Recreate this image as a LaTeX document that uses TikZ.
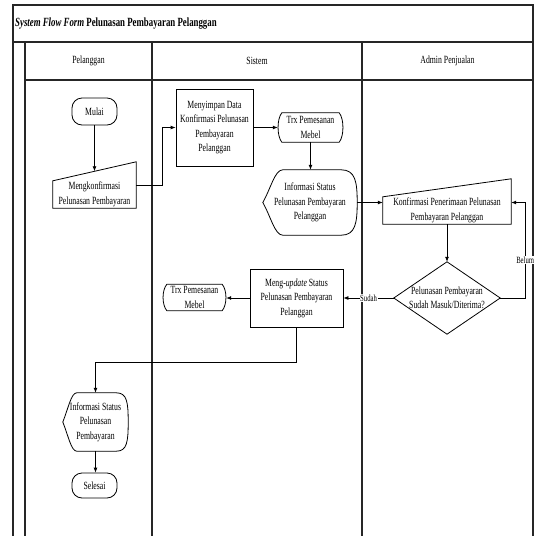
\documentclass[tikz,border=0pt]{standalone}
\usepackage{fontspec}
\setmainfont{Liberation Serif}[FakeStretch=0.705]
\usetikzlibrary{arrows.meta,calc}
\newcommand\trxoutline[1]{%
  \draw[shp] ($(#1.north west)+(4,0)$) -- ($(#1.north east)+(-4,0)$)
    .. controls ($(#1.north east)+(1,6)$) and ($(#1.south east)+(1,-6)$) .. ($(#1.south east)+(-4,0)$)
    -- ($(#1.south west)+(4,0)$)
    .. controls ($(#1.south west)+(-1,-6)$) and ($(#1.north west)+(-1,6)$) .. ($(#1.north west)+(4,0)$) -- cycle;}
\newcommand\dispoutline[3]{%
  \draw[shp] (#1.west) .. controls ($(#1.west)+(#2*0.4,-14)$) and ($(#1.north west)+(#2*0.6,0)$) .. ($(#1.north west)+(#2,0)$)
    -- ($(#1.north east)+(-#3,0)$)
    .. controls ($(#1.north east)+(-#3*0.1,0)$) and ($(#1.east)+(0,-20)$) .. (#1.east)
    .. controls ($(#1.east)+(0,20)$) and ($(#1.south east)+(-#3*0.1,0)$) .. ($(#1.south east)+(-#3,0)$)
    -- ($(#1.south west)+(#2,0)$)
    .. controls ($(#1.south west)+(#2*0.6,0)$) and ($(#1.west)+(#2*0.4,14)$) .. (#1.west) -- cycle;}
\begin{document}
\begin{tikzpicture}[x=1pt,y=-1pt,
  frame/.style={line width=1.1pt, draw=black!85},
  shp/.style={line width=0.8pt, draw=black},
  txt/.style={inner sep=0pt, align=center, font=\fontsize{11}{14.5}\selectfont},
  arr/.style={line width=0.8pt, -{Latex[length=5pt,width=4pt]}},
  lbl/.style={fill=white, inner sep=0.6pt, font=\fontsize{9.5}{11}\selectfont},
  hdr/.style={inner sep=0pt, font=\fontsize{11}{13}\selectfont}
]
\useasboundingbox (0,0) rectangle (535,536);
% frame
\draw[frame] (13,536) -- (13,5) -- (533,5) -- (533,536);
\draw[frame] (13,42) -- (533,42);
\draw[frame] (25,42) -- (25,536);
\draw[frame] (25,80) -- (533,80);
\draw[frame] (152,42) -- (152,536);
\draw[frame] (362,42) -- (362,536);
\node[anchor=west, inner sep=0pt, font=\fontsize{12.5}{15}\selectfont\bfseries] (title) at (15,23.5) {\textit{System Flow Form} Pelunasan Pembayaran Pelanggan};
\node[hdr] (h1) at (88.5,61) {Pelanggan};
\node[hdr] (h2) at (257,61) {Sistem};
\node[hdr] (h3) at (447.5,61) {Admin Penjualan};
% nodes
\node[txt, shp, rounded corners=10pt, minimum width=45, minimum height=27] (start) at (94.5,111.5) {Mulai};
\node[txt, minimum width=83, minimum height=27] (mk) at (94.5,194.5) {Mengkonfirmasi\\Pelunasan Pembayaran};
\draw[shp] (mk.south west) -- (mk.south east) -- ($(mk.north east)+(0,-19)$) -- (mk.north west) -- cycle;
\coordinate (mktop) at ($(mk.north)+(0,-9.5)$);
\coordinate (mkr) at ($(mk.south east)+(0,-23)$);
\node[txt, shp, minimum width=77, minimum height=77] (ms) at (214.5,127.5) {Menyimpan Data\\Konfirmasi Pelunasan\\Pembayaran\\Pelanggan};
\node[txt, minimum width=65, minimum height=29] (t1) at (310.5,127.5) {Trx Pemesanan\\Mebel};
\trxoutline{t1}
\node[txt, minimum width=94, minimum height=65] (d1) at (310,202.5) {Informasi Status\\Pelunasan Pembayaran\\Pelanggan};
\dispoutline{d1}{20}{16}
\node[txt, minimum width=128, minimum height=27] (kf) at (447,210.5) {Konfirmasi Penerimaan Pelunasan\\Pembayaran Pelanggan};
\draw[shp] (kf.south west) -- (kf.south east) -- ($(kf.north east)+(0,-18)$) -- (kf.north west) -- cycle;
\node[txt, minimum width=106, minimum height=72] (dm) at (447,298) {Pelunasan Pembayaran\\Sudah Masuk/Diterima?};
\draw[shp] (dm.north) -- (dm.east) -- (dm.south) -- (dm.west) -- cycle;
\node[txt, shp, minimum width=93, minimum height=58] (upd) at (296.5,298) {Meng-\textit{update} Status\\Pelunasan Pembayaran\\Pelanggan};
\node[txt, minimum width=63, minimum height=26] (t2) at (194.5,297.5) {Trx Pemesanan\\Mebel};
\trxoutline{t2}
\node[txt, minimum width=65, minimum height=58] (d2) at (95.5,422) {Informasi Status\\Pelunasan\\Pembayaran};
\dispoutline{d2}{14}{12}
\node[txt, shp, rounded corners=10pt, minimum width=45, minimum height=25] (end) at (94.5,485.5) {Selesai};
% connectors
\draw[arr] (start.south) -- (mktop);
\draw[arr] (mkr) -- ++(26,0) |- (ms.west);
\draw[arr] (ms.east) -- (t1.west);
\draw[arr] (t1.south) -- (t1.south |- d1.north);
\draw[arr] (d1.east) -- (kf.west |- d1.east);
\draw[arr] (kf.south) -- (dm.north);
\coordinate (bel) at ($(dm.east)+(25,0)$);
\draw[arr] (dm.east) -- (bel) -- node[lbl, pos=0.4] {Belum} (bel |- d1.east) -- (kf.east |- d1.east);
\draw[arr] (dm.west) -- node[lbl] {Sudah} (upd.east);
\draw[arr] (upd.west) -- (upd.west -| t2.east);
\draw[arr] (upd.south) -- ++(0,35) -| (d2.north);
\draw[arr] (d2.south) -- (d2.south |- end.north);
\end{tikzpicture}
\end{document}
